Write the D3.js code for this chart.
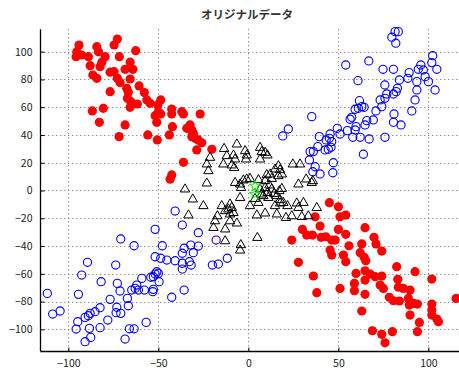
<!DOCTYPE html>
<html><head><meta charset="utf-8">
<script src="https://cdn.jsdelivr.net/npm/d3@7"></script>
<style>
html,body{margin:0;padding:0;background:#fff;}
svg text{font-family:"Noto Sans CJK JP","DejaVu Sans",sans-serif;}
</style></head>
<body><svg id="c" width="459" height="372"></svg>
<script>
const title = "オリジナルデータ";
const xTicks = [-100, -50, 0, 50, 100];
const yTicks = [-100, -80, -60, -40, -20, 0, 20, 40, 60, 80, 100];

const redPoints = [
[-72.8,109.1],[-74.6,104.8],[-94.1,104.8],[-84.2,103.6],[-62.6,100.7],[-95.3,100],[-83.3,100],[-95.7,96.4],[-92.6,97.6],[-88.9,96.4],[-79.6,96.4],[-71.7,96.4],[-81.4,92.4],[-65.7,92.4],[-87.9,89.9],[-82.4,89.2],[-68.5,87.3],[-64.2,87.3],[-76.8,85.2],[-74.6,85.6],[-86.4,83.2],[-84.2,80.8],[-72.8,80.8],[-65.7,80.3],[-71.3,77.7],[-60.7,75.3],[-67.6,73.6],[-76.8,71.2],[-66.7,70.7],[-57.8,70.5],[-67.2,66.4],[-56.4,65.2],[-65.3,64],[-48.7,65.2],[-61.7,62.3],[-54.6,62.8],[-65.7,59.9],[-50.3,61.6],[-86.7,57.3],[-80.6,59.2],[-50,56.8],[-42.6,58.7],[-51.8,53.9],[-42.6,55.1],[-48.7,55.1],[-82.8,49.1],[-50.9,49.1],[-68.5,47.2],[-42.2,46],[-71.8,38.8],[-55.9,40],[-50.6,36.4],[-43.9,40],
[-37,56.8],[-36.1,55.1],[-26.8,55.1],[-34.2,44.8],[-32.4,47.2],[-31.4,43.6],[-30.6,41.2],[-31.4,38.8],[-29.6,37.6],[-27.8,36.4],[-25.9,34.4],[-28.7,29.2],[-20.3,29.7],[-36.1,20.3],[-42.6,11.2],[-43.5,8.1],
[45,-8.8],[50,-11.7],[50.9,-18.9],[54.1,-17.7],[37.1,-18.9],[39.8,-25.6],[30,-28],[32.4,-32.1],[35.6,-32.1],[40.4,-33.7],[43,-33.3],[46.3,-35.7],[48.2,-35.7],[50,-28],[54.1,-31.6],[24.1,-35.7],[64.8,-26.8],[69.8,-33.7],[70.9,-38.5],[74.1,-43.6],[55.9,-39.8],[63,-38.5],[45.4,-42.9],[46.3,-46.5],[62.1,-44.8],[64.3,-48.1],[65.2,-50.6],[52.8,-46.5],[54.1,-51.3],[27.8,-51.7],[59.8,-59.7],[64.8,-57.8],[67.6,-60.2],[70.4,-62.1],[74.1,-61.6],[64.8,-64.5],[82.4,-54.9],[92.6,-58.5],[83,-64],[101.9,-63.8],[36.1,-61.6],[58.9,-66.9],[50.9,-70.5],[73.2,-68.1],[75,-70.5],[83.3,-69.7],[86.1,-70.5],[89.8,-71.7],[58.9,-72.2],[38,-73.6],[64.8,-74.8],[78.3,-76.9],[80.6,-79.4],[83.9,-79.6],[88.9,-77.7],[89.4,-82.5],[91.7,-81.3],[93.9,-81.8],[101.9,-81.8],[101.9,-86.1],[101.9,-89.7],[104.7,-92.6],[105.6,-94.5],[115.4,-77.7],[63,-86.8],[89.8,-89.7],[95,-95],[68.9,-101],[74.1,-103.6],[75.9,-109.7],[80,-101.7],[93.9,-101.7]
];

const bluePoints = [
[-40.7,-14.8],[-36.7,-24.9],[-27.8,-30.4],[-51.8,-28],[-70.9,-34.9],[-63.5,-39.8],[-47.8,-39.8],[-35.7,-41.6],[-32,-39.3],[-27.8,-40],[-30.6,-44.8],[-36.7,-45.2],[-51.8,-47.7],[-48.7,-48.8],[-45.3,-50.1],[-40.7,-50.6],[-36.7,-52.4],[-32.8,-51.3],[-31.8,-53.7],[-36.7,-56.6],[-89.4,-51.7],[-73.7,-53.7],[-92.6,-60.9],[-81.8,-65.7],[-72.8,-66.9],[-71.3,-72.4],[-50.9,-58.5],[-50,-59.7],[-51.8,-60.2],[-52.8,-62.1],[-54.2,-62.5],[-59.2,-63.3],[-49.6,-65.7],[-62,-68.1],[-62.9,-70.5],[-64.8,-71.7],[-61.1,-71.7],[-57.8,-71.7],[-52.8,-71.2],[-53.1,-72.9],[-42.6,-76.9],[-35.7,-71.7],[-111.7,-74.1],[-94.4,-74.8],[-67.2,-77.7],[-76.8,-78.4],[-66.7,-83],[-82.4,-84.4],[-73.1,-84.1],[-73.5,-88],[-70.9,-88.5],[-85.2,-87.3],[-87.9,-88.5],[-88.9,-90.2],[-90.7,-91.4],[-94.8,-94.5],[-104.6,-86.8],[-108.7,-89],[-78.1,-93.3],[-95.7,-99.8],[-88.3,-99.3],[-82.4,-98.8],[-66.1,-99.6],[-63.5,-99.6],[-56.8,-95],[-87.6,-105.8],[-90.7,-108.9],[-68.5,-107],[-17.9,-35.7],[-11.7,-48.8],[-20,-53.7],[-16.7,-53],
[79.7,110.4],[81.5,114.4],[83.3,114.4],[81.9,106.1],[102.4,97.1],[101.9,92.1],[95.8,90.4],[94.4,87.3],[97.2,86.8],[104.7,87.3],[54.1,90.4],[66.9,93.3],[74.8,87.3],[80.6,87.3],[89.3,84.9],[88.6,80.8],[98.2,82],[100,78.4],[93.6,78.4],[103.7,72.4],[93.6,72.4],[83.9,79.6],[60.9,79.1],[75.8,76],[82.8,73.6],[82.1,71.2],[80.6,69.5],[76.9,69.5],[75.9,66.4],[73.2,65.2],[92.6,65.2],[90.8,57.3],[61.7,64.7],[63,60.4],[64.3,59.9],[61.1,59.2],[59.3,58.5],[74.1,60.4],[70.9,57.3],[80.9,55.1],[80.6,49.1],[84.8,47.2],[75.9,38.3],[69.4,50.8],[65.8,50.3],[64.8,47.2],[59.8,46],[59.3,43.6],[55,43.1],[57.4,52.7],[56.5,51.3],[49.4,44.8],[50.9,40.7],[45.4,40.7],[43.2,36.4],[45,37.6],[46.3,35.2],[39.4,38.8],[38.6,31.6],[58,38.3],[62.1,38.3],[67.1,37.1],[35.2,53.2],[22.2,44.3],[19.1,39.3],[34.3,28],[36.1,28],[33.9,22],[37.1,17.1],[35.8,13.5],[39.8,11.9],[47.2,20],[46.9,12.8],[63.9,26.1],[42.6,29.2],[44.4,29.7],[45.9,31.1]
];

const trianglePoints = [
[-6.4,34.0],[-13.5,30.8],[-1.8,29.2],[-1.3,23.2],[6.5,31.6],[7.4,28.5],[10.6,26.1],[6.5,23.2],[-8.3,26.1],[-7.4,23.2],[-21.3,24.4],[-23.1,19.6],[-22.2,14.8],[-13.9,19.6],[-9.2,18.9],[-7.9,17.1],[-0.9,8.8],[0.9,9.2],[5.6,8.3],[-2.8,8.1],[-7.4,6.3],[-4.6,5.2],[-4.1,2.7],[-23.1,5.9],[-35.2,1.6],[12.1,12.4],[14.8,16.0],[16.7,18.4],[17.6,15.5],[18.6,12.4],[16.7,11.2],[13.0,9.2],[24.7,19.6],[28.7,19.6],[32.1,8.8],[35.8,7.6],[27.8,5.2],[35.2,6.3],[9.3,2.7],[11.7,4.5],[13.0,1.6],[10.6,-0.9],[8.3,-3.2],[14.3,-1.6],[17.2,0.4],[18.6,2.0],[15.8,-3.2],[11.1,-4.5],[17.6,-6.1],[-4.6,-4.5],[0.9,-10.4],[5.6,-8.1],[3.7,-5.2],[-30.9,-5.6],[-25.0,-10.4],[-14.8,-10.4],[-10.2,-9.2],[-11.1,-12.8],[-9.2,-11.7],[-12.9,-14.0],[-8.3,-15.3],[-10.2,-16.4],[4.7,-17.1],[9.3,-15.7],[15.8,-16.4],[20.9,-18.9],[14.8,-10.4],[17.6,-8.5],[21.7,-10.4],[26.9,-8.5],[27.8,-11.7],[30.6,-8.1],[38.0,-11.7],[-33.3,-17.1],[-17.2,-17.7],[-18.5,-21.3],[-19.4,-26.1],[-10.2,-21.3],[-6.4,-22.9],[-12.9,-27.2],[24.1,-17.7],[29.7,-18.2],[5.0,-33.3],[-12.9,-35.7],[-4.2,-38.5],[-4.6,-42.4],[-12.0,25.6],[9.3,28.0],[6.5,1.6],[7.4,-2.0],[19.4,-8.1],[33.3,-17.7],[9.3,7.6],[10.2,11.9],[-0.9,26.1]
];

const greenPoints = [[3.7,3.2],[3.7,-2.7]];

const svg = d3.select("#c");
const L = 40.3, R = 457, T = 29.3, B = 351;
const x = d3.scaleLinear().domain([-115.6, 115.9]).range([L, R]);
const y = d3.scaleLinear().domain([-115.6, 116.1]).range([B, T]);

// grid
const grid = svg.append("g").attr("stroke", "#666").attr("stroke-width", 1).attr("stroke-dasharray", "1,3");
grid.selectAll(".gx").data(xTicks).join("line")
  .attr("x1", d => Math.round(x(d)) + 0.5).attr("x2", d => Math.round(x(d)) + 0.5)
  .attr("y1", T).attr("y2", B);
grid.selectAll(".gy").data(yTicks).join("line")
  .attr("y1", d => Math.round(y(d)) + 0.5).attr("y2", d => Math.round(y(d)) + 0.5)
  .attr("x1", L).attr("x2", R + 2);

// axes
const xAxis = d3.axisBottom(x).tickValues(xTicks).tickSizeInner(-4).tickSizeOuter(0).tickPadding(8).tickFormat(d => d < 0 ? "\u2212" + Math.abs(d) : d);
const yAxis = d3.axisLeft(y).tickValues(yTicks).tickSizeInner(-4).tickSizeOuter(0).tickPadding(8).tickFormat(d => d < 0 ? "\u2212" + Math.abs(d) : d);
const gx = svg.append("g").attr("transform", `translate(0,${Math.round(B)+0.5})`).call(xAxis);
const gy = svg.append("g").attr("transform", `translate(${Math.round(L)+0.5},0)`).call(yAxis);
[gx, gy].forEach(g => {
  g.select(".domain").attr("stroke", "#000").attr("stroke-width", 1.3);
  g.selectAll(".tick line").attr("stroke", "#000");
  g.selectAll("text").attr("font-size", 10.5).attr("fill", "#222").style("font-family", "'Noto Sans CJK JP', sans-serif");
});
gy.select(".domain").attr("d", `M0,${T}V${B}`);
gx.select(".domain").attr("d", `M${L},0H${R+2}`);

const plot = svg.append("g");
plot.selectAll(".r").data(redPoints).join("circle")
  .attr("cx", d => x(d[0])).attr("cy", d => y(d[1])).attr("r", 4.6).attr("fill", "#ff0000");
plot.selectAll(".b").data(bluePoints).join("circle")
  .attr("cx", d => x(d[0])).attr("cy", d => y(d[1])).attr("r", 4.1)
  .attr("fill", "none").attr("stroke", "#0000ff").attr("stroke-width", 1.1);
plot.selectAll(".t").data(trianglePoints).join("path")
  .attr("transform", d => `translate(${x(d[0])},${y(d[1])})`)
  .attr("d", "M0,-4.4L4.7,3.7L-4.7,3.7Z")
  .attr("fill", "none").attr("stroke", "#000").attr("stroke-width", 1);
plot.selectAll(".g").data(greenPoints).join("path")
  .attr("transform", d => `translate(${x(d[0])},${y(d[1])})`)
  .attr("d", d3.symbol(d3.symbolStar, 40)())
  .attr("fill", "none").attr("stroke", "#00ee00").attr("stroke-width", 1);

svg.append("text").attr("x", 247).attr("y", 19).attr("text-anchor", "middle")
  .attr("font-size", 11.5).attr("font-weight", "bold").attr("fill", "#333").text(title);
</script></body></html>
